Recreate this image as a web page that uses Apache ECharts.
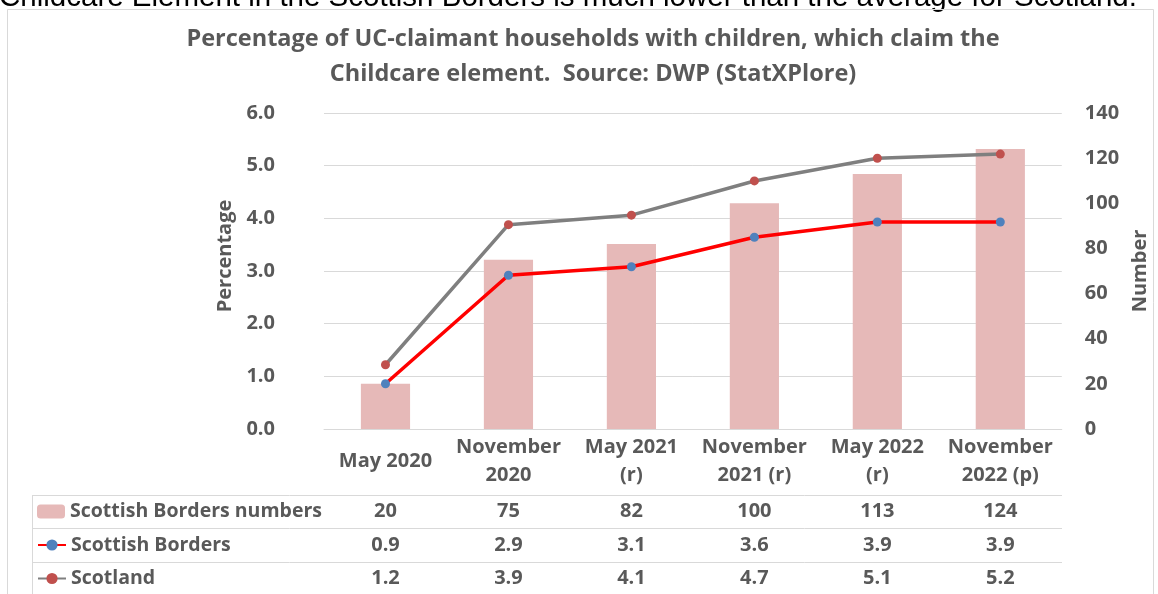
<!DOCTYPE html>
<html>
<head>
<meta charset="utf-8">
<script src="https://cdn.jsdelivr.net/npm/echarts@6/dist/echarts.min.js"></script>
<style>
  html, body { margin: 0; padding: 0; background: #fff; }
  #chart { width: 1158px; height: 594px; }
</style>
</head>
<body>
<div id="chart"></div>
<script>
// categories and values
const categories = ['May 2020', 'November\n2020', 'May 2021\n(r)', 'November\n2021 (r)', 'May 2022\n(r)', 'November\n2022 (p)'];
const bordersNumbers = [20, 75, 82, 100, 113, 124];
const bordersPct = [0.86, 2.92, 3.08, 3.64, 3.93, 3.93];
const scotlandPct = [1.22, 3.88, 4.06, 4.71, 5.14, 5.22];

const FONT = '"Open Sans"';
const GREY = '#595959';
const LINE = '#d9d9d9';
const SIZE = 20;

const chart = echarts.init(document.getElementById('chart'), null, { renderer: 'canvas' });

const labelStyle = { color: GREY, fontFamily: FONT, fontWeight: 'bold', fontSize: SIZE };

// one extra x axis per table row, pushed down with offset
function rowAxis(values, offset) {
  return {
    type: 'category',
    data: values,
    position: 'bottom',
    offset: offset,
    axisLine: { show: false },
    axisTick: { show: false },
    axisLabel: Object.assign({ margin: 0, verticalAlign: 'middle', interval: 0 }, labelStyle)
  };
}

// a legend per table row so each key sits in its own row
function rowLegend(name, top) {
  return {
    left: 37,
    top: top,
    padding: 0,
    itemWidth: 28,
    itemHeight: 14,
    itemGap: 0,
    textStyle: Object.assign({ lineHeight: 22 }, labelStyle, { fontSize: 19.5 }),
    data: [name]
  };
}

const option = {
  backgroundColor: '#fff',
  animation: false,
  title: {
    text: 'Percentage of UC-claimant households with children, which claim the\nChildcare element.  Source: DWP (StatXPlore)',
    left: 588,
    textAlign: 'center',
    top: 17,
    textStyle: {
      color: GREY,
      fontFamily: FONT,
      fontWeight: 'bold',
      fontSize: 23.5,
      lineHeight: 35
    }
  },
  legend: [
    rowLegend('Scottish Borders numbers', 500.5),
    rowLegend('Scottish Borders', 534),
    rowLegend('Scotland', 567.5)
  ],
  grid: { left: 324, right: 96, top: 113, bottom: 165 },
  xAxis: [
    {
      type: 'category',
      data: categories,
      axisLine: { lineStyle: { color: LINE } },
      axisTick: { length: 170, lineStyle: { color: LINE } },
      axisLabel: Object.assign({ margin: 32, verticalAlign: 'middle', interval: 0, lineHeight: 28 }, labelStyle)
    },
    rowAxis(bordersNumbers.map(String), 82),
    rowAxis(bordersPct.map(v => v.toFixed(1)), 116),
    rowAxis(scotlandPct.map(v => v.toFixed(1)), 149)
  ],
  yAxis: [
    {
      type: 'value',
      min: 0, max: 6, interval: 1,
      name: 'Percentage',
      nameLocation: 'middle',
      nameGap: 88,
      nameTextStyle: Object.assign({ padding: [0, 0, 0, 30] }, labelStyle),
      axisLabel: Object.assign({ margin: 49, formatter: v => v.toFixed(1) }, labelStyle),
      splitLine: { lineStyle: { color: LINE } }
    },
    {
      type: 'value',
      min: 0, max: 140, interval: 20,
      name: 'Number',
      nameLocation: 'middle',
      nameGap: 68,
      nameTextStyle: labelStyle,
      axisLabel: Object.assign({ margin: 23 }, labelStyle),
      splitLine: { show: false }
    }
  ],
  series: [
    {
      name: 'Scottish Borders numbers',
      type: 'bar',
      yAxisIndex: 1,
      barWidth: '40%',
      itemStyle: { color: '#E6B9B8' },
      data: bordersNumbers
    },
    {
      name: 'Scottish Borders',
      type: 'line',
      symbol: 'circle',
      symbolSize: 9,
      lineStyle: { color: '#FF0000', width: 3.5 },
      itemStyle: { color: '#4F81BD' },
      data: bordersPct
    },
    {
      name: 'Scotland',
      type: 'line',
      symbol: 'circle',
      symbolSize: 9,
      lineStyle: { color: '#7F7F7F', width: 3.5 },
      itemStyle: { color: '#C0504D' },
      data: scotlandPct
    }
  ],
  graphic: [
    // cut-off sentence above the chart
    {
      type: 'text', x: -1, y: 13,
      style: { text: 'Childcare Element in the Scottish Borders is much lower than the average for Scotland.', fill: '#000', font: '29.5px "Liberation Sans"', verticalAlign: 'bottom' }
    },
    // chart frame
    { type: 'rect', shape: { x: 7.5, y: 9.5, width: 1146, height: 620 }, style: { fill: null, stroke: LINE, lineWidth: 1 } },
    // table rules
    { type: 'line', shape: { x1: 32, y1: 495.5, x2: 1062, y2: 495.5 }, style: { stroke: LINE, lineWidth: 1 } },
    { type: 'line', shape: { x1: 32, y1: 528.5, x2: 1062, y2: 528.5 }, style: { stroke: LINE, lineWidth: 1 } },
    { type: 'line', shape: { x1: 32, y1: 562.5, x2: 1062, y2: 562.5 }, style: { stroke: LINE, lineWidth: 1 } },
    { type: 'line', shape: { x1: 32.5, y1: 495, x2: 32.5, y2: 600 }, style: { stroke: LINE, lineWidth: 1 } }
  ]
};

chart.setOption(option);
</script>
</body>
</html>
